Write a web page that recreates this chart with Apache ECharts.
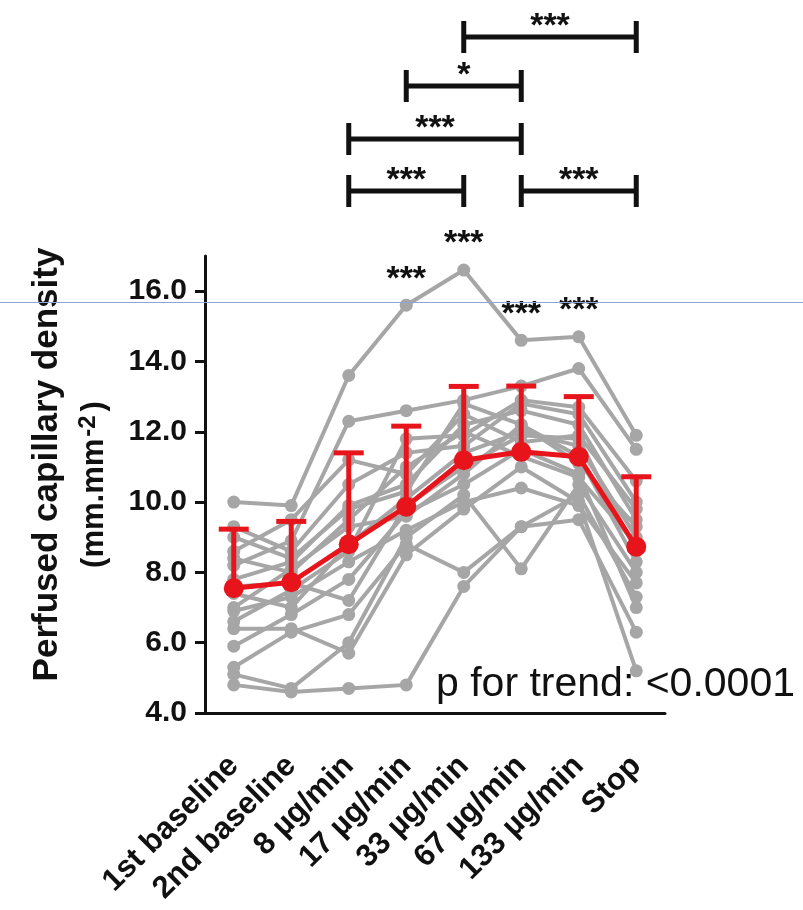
<!DOCTYPE html>
<html>
<head>
<meta charset="utf-8">
<script src="https://cdn.jsdelivr.net/npm/echarts@6/dist/echarts.min.js"></script>
<style>
  html, body { margin: 0; padding: 0; background: #fff; }
  #chart { width: 803px; height: 910px; }
</style>
</head>
<body>
<div id="chart"></div>
<script>
// categories and tick labels
const categories = ['1st baseline', '2nd baseline', '8 µg/min', '17 µg/min', '33 µg/min', '67 µg/min', '133 µg/min', 'Stop'];
const yTicks = [4, 6, 8, 10, 12, 14, 16];

// individual subjects (grey lines)
const subjects = [
  [10.0, 9.9, 13.6, 15.6, 16.6, 14.6, 14.7, 11.9],
  [8.2, 8.9, 12.3, 12.6, 12.9, 13.3, 13.8, 11.5],
  [4.8, 4.6, 4.7, 4.8, 7.6, 9.3, 10.2, 7.3],
  [5.1, 4.7, 6.0, 9.0, 10.2, 8.1, 10.5, 8.0],
  [6.4, 6.4, 5.7, 8.5, 9.8, 11.0, 10.0, 5.2],
  [5.3, 6.3, 6.8, 8.8, 8.0, 9.3, 9.5, 6.3],
  [5.9, 6.8, 7.8, 9.7, 10.5, 11.5, 10.8, 7.0],
  [7.0, 8.1, 9.3, 9.6, 10.8, 12.2, 11.3, 8.3],
  [7.4, 7.0, 8.8, 10.1, 11.4, 12.0, 11.6, 9.0],
  [7.8, 8.3, 9.9, 10.5, 12.2, 12.6, 12.2, 9.5],
  [8.4, 8.0, 9.5, 11.0, 12.0, 11.3, 10.7, 8.8],
  [9.3, 8.6, 10.5, 11.4, 11.6, 12.8, 12.5, 10.0],
  [8.6, 9.5, 11.2, 10.8, 12.5, 11.7, 11.9, 9.8],
  [6.9, 7.3, 8.3, 9.2, 10.0, 10.4, 9.9, 7.7],
  [7.6, 7.7, 7.2, 9.9, 11.0, 11.9, 11.8, 8.6],
  [9.0, 8.4, 9.8, 10.3, 12.8, 12.2, 11.1, 9.3],
  [6.6, 7.5, 8.6, 11.8, 11.9, 12.9, 12.7, 10.6]
];

// mean and mean+SD (red)
const meanVals = [7.55, 7.72, 8.8, 9.87, 11.19, 11.43, 11.29, 8.73];
const upperVals = [9.23, 9.45, 11.4, 12.16, 13.29, 13.3, 13.0, 10.72];

// significance vs baseline (stars over the points)
const starCols = [3, 4, 5, 6];
const starLabels = ['***', '***', '***', '***'];

// pairwise comparisons drawn as brackets above the plot
const pairFrom = [4, 3, 2, 2, 5];
const pairTo = [7, 5, 5, 4, 7];
const pairLabels = ['***', '*', '***', '***', '***'];
const pairRow = [0, 1, 2, 3, 3];

const trendText = 'p for trend: <0.0001';

// layout
const ROW_Y = [37, 86, 139, 191];
const GREY = '#a6a6a6';
const RED = '#e8141c';
const FONT = '"Liberation Sans", Arial, sans-serif';

const chart = echarts.init(document.getElementById('chart'));

const greySeries = subjects.map(s => ({
  type: 'line',
  data: s,
  symbol: 'circle',
  symbolSize: 13,
  lineStyle: { color: GREY, width: 4 },
  itemStyle: { color: GREY },
  emphasis: { disabled: true },
  silent: true,
  z: 2
}));

const option = {
  animation: false,
  grid: { left: 205, right: 138, top: 256, bottom: 197 },
  xAxis: {
    type: 'category',
    data: categories,
    axisLine: { lineStyle: { color: '#111', width: 3 } },
    axisTick: { alignWithLabel: true, length: 10, lineStyle: { color: '#111', width: 3 } },
    axisLabel: {
      interval: 0, rotate: 45, margin: 48,
      fontFamily: FONT, fontWeight: 'bold', fontSize: 31, color: '#111'
    },
    splitLine: { show: false }
  },
  yAxis: {
    type: 'value',
    min: 4, max: 17, interval: 2,
    axisLine: { show: true, lineStyle: { color: '#111', width: 3 } },
    axisTick: { show: true, length: 10, customValues: yTicks, lineStyle: { color: '#111', width: 3 } },
    axisLabel: {
      customValues: yTicks, margin: 18,
      formatter: v => v.toFixed(1),
      fontFamily: FONT, fontWeight: 'bold', fontSize: 30, color: '#111'
    },
    splitLine: { show: false },
    name: '{a|Perfused capillary density}\n{b|(mm.mm}{s|-2}{b|)}',
    nameLocation: 'middle',
    nameRotate: 90,
    nameGap: 93,
    nameTextStyle: {
      color: '#111',
      rich: {
        a: { fontFamily: FONT, fontWeight: 'bold', fontSize: 35, lineHeight: 57, color: '#111', padding: [0, 0, 0, 40] },
        b: { fontFamily: FONT, fontWeight: 'bold', fontSize: 31, lineHeight: 36, color: '#111' },
        s: { fontFamily: FONT, fontWeight: 'bold', fontSize: 24, verticalAlign: 'top', color: '#111', padding: [0, 4, 0, 2] }
      }
    }
  },
  graphic: [
    {
      type: 'text', left: 436, top: 664, z: 50,
      style: { text: trendText, font: '41px ' + FONT, fill: '#111' }
    },
    {
      type: 'line', z: 100, silent: true,
      shape: { x1: 0, y1: 302.5, x2: 803, y2: 302.5 },
      style: { stroke: '#8ea5cf', lineWidth: 1 }
    }
  ],
  series: [
    ...greySeries,
    {
      type: 'custom',
      z: 4,
      silent: true,
      data: meanVals.map((m, i) => [i, m, upperVals[i]]),
      encode: { x: 0, y: [1, 2] },
      renderItem: (params, api) => {
        const p0 = api.coord([api.value(0), api.value(1)]);
        const p1 = api.coord([api.value(0), api.value(2)]);
        return {
          type: 'group',
          children: [
            { type: 'line', shape: { x1: p0[0], y1: p0[1], x2: p1[0], y2: p1[1] }, style: { stroke: RED, lineWidth: 5 } },
            { type: 'line', shape: { x1: p1[0] - 15, y1: p1[1], x2: p1[0] + 15, y2: p1[1] }, style: { stroke: RED, lineWidth: 5 } }
          ]
        };
      }
    },
    {
      type: 'line',
      data: meanVals,
      symbol: 'circle',
      symbolSize: 20,
      lineStyle: { color: RED, width: 5 },
      itemStyle: { color: RED },
      emphasis: { disabled: true },
      silent: true,
      z: 5
    },
    {
      // stars above the highest point of a column
      type: 'custom',
      silent: true,
      z: 6,
      data: starCols.map(c => [c]),
      encode: { x: 0 },
      renderItem: (params, api) => {
        const c = starCols[params.dataIndex];
        const top = Math.max(...subjects.map(s => s[c]));
        const p = api.coord([c, top]);
        return {
          type: 'text', x: p[0], y: p[1] - 26,
          style: {
            text: starLabels[params.dataIndex], fill: '#111',
            font: 'bold 34px ' + FONT, align: 'center', verticalAlign: 'middle'
          }
        };
      }
    },
    {
      // comparison brackets
      type: 'custom',
      silent: true,
      z: 6,
      data: pairFrom.map((f, i) => [f, pairTo[i]]),
      encode: { x: [0, 1] },
      renderItem: (params, api) => {
        const i = params.dataIndex;
        const xa = api.coord([pairFrom[i], 4])[0];
        const xb = api.coord([pairTo[i], 4])[0];
        const y = ROW_Y[pairRow[i]];
        const ls = { stroke: '#111', lineWidth: 5 };
        return {
          type: 'group',
          children: [
            { type: 'line', shape: { x1: xa, y1: y, x2: xb, y2: y }, style: ls },
            { type: 'line', shape: { x1: xa, y1: y - 16, x2: xa, y2: y + 16 }, style: ls },
            { type: 'line', shape: { x1: xb, y1: y - 16, x2: xb, y2: y + 16 }, style: ls },
            {
              type: 'text', x: (xa + xb) / 2, y: y - 10,
              style: {
                text: pairLabels[i], fill: '#111',
                font: 'bold 34px ' + FONT, align: 'center', verticalAlign: 'middle'
              }
            }
          ]
        };
      }
    }
  ]
};

chart.setOption(option);
</script>
</body>
</html>
